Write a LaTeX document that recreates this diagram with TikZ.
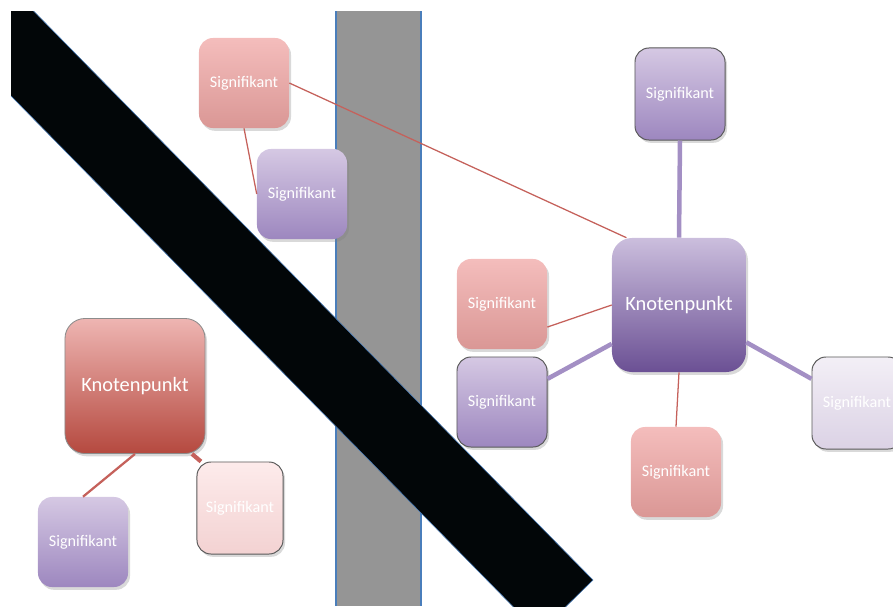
\documentclass[tikz,border=0pt]{standalone}
\usepackage{fontspec}
\setmainfont{Carlito}
\usetikzlibrary{shadows}
\definecolor{rosaT}{HTML}{F4BDBC}
\definecolor{rosaB}{HTML}{DA9795}
\definecolor{lilaT}{HTML}{D5C8E3}
\definecolor{lilaB}{HTML}{9D87BF}
\definecolor{rotT}{HTML}{EEB5B2}
\definecolor{rotB}{HTML}{B5493F}
\definecolor{knotT}{HTML}{CBBEDD}
\definecolor{knotB}{HTML}{6B5094}
\definecolor{blassrosaT}{HTML}{FDEBEB}
\definecolor{blassrosaB}{HTML}{F3D2D2}
\definecolor{blasslilaT}{HTML}{F3EFF6}
\definecolor{blasslilaB}{HTML}{DBD2E5}
\definecolor{linkred}{HTML}{C5615B}
\definecolor{linklila}{HTML}{A38FC4}
\definecolor{saeule}{HTML}{959595}
\definecolor{kante}{HTML}{4A7EBB}
\definecolor{balken}{HTML}{020608}

\begin{document}
\begin{tikzpicture}[x=0.025cm,y=-0.025cm,
  font=\fontsize{11.5}{13}\selectfont,
  sig/.style={rounded corners=3.5mm,minimum width=2.25cm,minimum height=2.25cm,
    inner sep=2pt,text=white,
    drop shadow={shadow xshift=0.5mm,shadow yshift=-0.7mm,opacity=0.3}},
  knot/.style={sig,font=\fontsize{14.5}{17}\selectfont,rounded corners=5mm,
    minimum width=3.35cm,minimum height=3.35cm},
  rosa/.style={top color=rosaT,bottom color=rosaB},
  lila/.style={top color=lilaT,bottom color=lilaB},
  rot/.style={top color=rotT,bottom color=rotB},
  knotlila/.style={top color=knotT,bottom color=knotB},
  blassrosa/.style={top color=blassrosaT,bottom color=blassrosaB},
  blasslila/.style={top color=blasslilaT,bottom color=blasslilaB},
  edged/.style={draw=black!65,line width=0.7pt},
  thinlink/.style={draw=linkred,line width=0.9pt},
  thicklink/.style={draw=linklila,line width=3.2pt}]
\useasboundingbox (0,0) rectangle (893,606);

% Hintergrund: Saeule und Balken
\fill[saeule] (336,11) rectangle (421,606);
\draw[kante,line width=0.9pt] (336,11)--(336,606) (421,11)--(421,606);
\begin{scope}
  \clip (11,11) rectangle (893,606);
  \fill[balken,draw=kante,line width=0.4pt] (-108,-133)--(593,580)--(539,633)--(-162,-80)--cycle;
\end{scope}

% linke Gruppe
\node[sig,rosa] (sigA) at (244,83) {Signifikant};
\node[sig,lila] (sigB) at (302,194) {Signifikant};
\node[knot,rot,draw=black!45,line width=0.6pt,minimum width=3.5cm,minimum height=3.375cm] (knotL) at (135,386) {Knotenpunkt};
\node[sig,lila] (sigC) at (83,542) {Signifikant};
\node[sig,blassrosa,edged,minimum width=2.15cm,minimum height=2.3cm] (sigD) at (240,508) {Signifikant};

% rechte Gruppe
\node[sig,lila,edged,minimum height=2.3cm] (sigE) at (680,94) {Signifikant};
\node[knot,knotlila] (knotR) at (679,305) {Knotenpunkt};
\node[sig,rosa] (sigF) at (502,304) {Signifikant};
\node[sig,lila,edged] (sigG) at (502,402) {Signifikant};
\node[sig,blasslila,edged,minimum height=2.3cm] (sigH) at (857,403) {Signifikant};
\node[sig,rosa] (sigI) at (676,472) {Signifikant};

\draw[thinlink] (sigA.south)--(sigB.west);
\draw[thinlink] (sigA.east)--(knotR.128);
\draw[draw=linkred,line width=1.6pt] (knotL.south)--(sigC.north);
\draw[draw=linkred,line width=3pt] (knotL.-50)--(sigD.130);
\draw[thicklink] (sigE.south)--(knotR.north);
\draw[thinlink] (sigF.-27)--(knotR.west);
\draw[thicklink] (sigG.27)--(knotR.-150);
\draw[thicklink] (knotR.-29)--(sigH.152);
\draw[thinlink] (knotR.south)--(sigI.north);
\end{tikzpicture}
\end{document}
